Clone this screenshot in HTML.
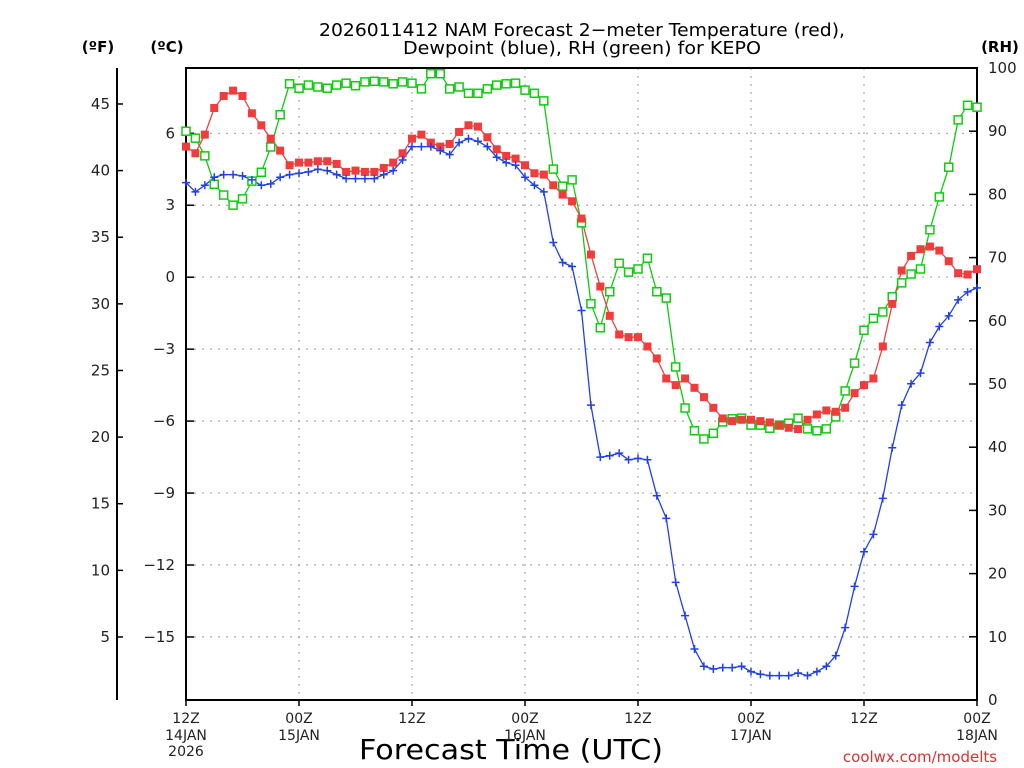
<!DOCTYPE html>
<html><head><meta charset="utf-8"><style>
body{margin:0;background:#fff;width:1024px;height:768px;overflow:hidden}
svg{display:block}
text{font-family:"DejaVu Sans","Liberation Sans",sans-serif;fill:#000}
</style></head><body>
<svg id="chart" width="1024" height="768" viewBox="0 0 1024 768" xmlns="http://www.w3.org/2000/svg">
<text x="582" y="36" font-size="18" text-anchor="middle" textLength="526" lengthAdjust="spacingAndGlyphs">2026011412 NAM Forecast 2−meter Temperature (red),</text>
<text x="582" y="54" font-size="18" text-anchor="middle" textLength="358" lengthAdjust="spacingAndGlyphs">Dewpoint (blue), RH (green) for KEPO</text>
<text x="98" y="52" font-size="15" font-weight="bold" text-anchor="middle">(ºF)</text>
<text x="167" y="52" font-size="15" font-weight="bold" text-anchor="middle">(ºC)</text>
<text x="1000" y="52" font-size="15" font-weight="bold" text-anchor="middle">(RH)</text>
<text x="511" y="759" font-size="28" text-anchor="middle" textLength="304" lengthAdjust="spacingAndGlyphs">Forecast Time (UTC)</text>
<text x="920" y="762" font-size="15" text-anchor="middle" style="fill:#e03030">coolwx.com/modelts</text>
<g id="grid"></g><g id="axes"></g><g id="series"></g>
</svg>
<script>
const hours=[];for(let i=0;i<=84;i++)hours.push(i);
const tempF=[41.8,41.3,42.7,44.7,45.6,46.0,45.6,44.3,43.4,42.4,41.5,40.4,40.6,40.6,40.7,40.7,40.5,39.9,40.0,39.9,39.9,40.2,40.6,41.3,42.4,42.7,42.1,41.8,42.0,42.9,43.4,43.3,42.5,41.6,41.1,40.9,40.4,39.8,39.7,38.9,38.2,37.7,36.4,33.7,31.3,29.1,27.7,27.5,27.5,26.8,25.9,24.4,23.9,24.4,23.7,23.0,22.2,21.4,21.2,21.3,21.3,21.2,21.1,20.9,20.7,20.6,21.3,21.7,22.0,21.9,22.2,23.3,23.9,24.4,26.8,30.0,32.5,33.6,34.1,34.3,34.0,33.2,32.3,32.2,32.6];
const dewF=[39.1,38.4,38.9,39.5,39.7,39.7,39.6,39.3,38.9,39.0,39.5,39.7,39.8,39.9,40.1,40.0,39.7,39.4,39.4,39.4,39.4,39.7,40.0,40.8,41.8,41.8,41.8,41.5,41.2,42.1,42.4,42.2,41.8,41.0,40.6,40.4,39.5,38.9,38.4,34.6,33.1,32.8,29.5,22.4,18.5,18.6,18.8,18.3,18.4,18.3,15.6,13.9,9.1,6.6,4.1,2.8,2.6,2.7,2.7,2.8,2.4,2.2,2.1,2.1,2.1,2.3,2.1,2.4,2.8,3.6,5.7,8.8,11.4,12.7,15.4,19.2,22.4,24.0,24.8,27.1,28.3,29.1,30.3,30.9,31.2];
const rh=[90.0,88.9,86.1,81.6,79.9,78.3,79.3,82.1,83.5,87.5,92.6,97.5,96.8,97.3,97.0,96.8,97.3,97.6,97.2,97.8,97.9,97.8,97.5,97.8,97.6,96.7,99.1,99.1,96.7,97.0,96.0,96.0,96.7,97.3,97.5,97.6,96.5,96.0,94.8,84.0,81.3,82.3,75.5,62.7,58.9,64.6,69.1,67.7,68.2,69.9,64.6,63.6,52.7,46.2,42.6,41.3,42.2,44.0,44.5,44.6,43.5,43.5,43.0,43.5,43.8,44.6,42.9,42.6,42.9,44.8,48.9,53.3,58.5,60.4,61.4,63.8,66.0,67.4,68.2,74.4,79.6,84.3,91.8,94.1,93.8];
const fTicks=[5,10,15,20,25,30,35,40,45];
const cTicks=[-15,-12,-9,-6,-3,0,3,6];
const rhTicks=[0,10,20,30,40,50,60,70,80,90,100];
const xTickLabels=["12Z","00Z","12Z","00Z","12Z","00Z","12Z","00Z"];
const xDateLabels=["14JAN","15JAN","","16JAN","","17JAN","","18JAN"];
const L=186,R=977,T=68,B=700;
const NS="http://www.w3.org/2000/svg";
const xs=h=>L+(R-L)*h/84;
const yF=f=>(703.6-f*13.325);
const yC=c=>yF(c*9/5+32);
const yRH=v=>B-(B-T)*v/100;
function mk(tag,attrs,parent,txt){const e=document.createElementNS(NS,tag);for(const k in attrs)e.setAttribute(k,attrs[k]);if(txt!==undefined)e.textContent=txt;parent.appendChild(e);return e;}
const grid=document.getElementById('grid'),axes=document.getElementById('axes'),ser=document.getElementById('series');
cTicks.forEach(c=>{const g=mk('line',{x1:L,x2:R,y1:yC(c),y2:yC(c),stroke:'#aaa','stroke-dasharray':'2,6','stroke-width':1.2},grid);

});
xTickLabels.forEach((t,i)=>{const x=xs(i*12);if(i>0&&i<7){const g=mk('line',{x1:x,x2:x,y1:T,y2:B,stroke:'#aaa','stroke-dasharray':'2,6','stroke-width':1.2},grid);

}
const a=mk('text',{x:x,y:723,'font-size':14,'text-anchor':'middle',style:'fill:#222'},axes,t);


if(xDateLabels[i]){const d=mk('text',{x:x,y:740,'font-size':14,'text-anchor':'middle',style:'fill:#222'},axes,xDateLabels[i]);

}
const tk=mk('line',{x1:x,x2:x,y1:B,y2:B+6,stroke:'#000','stroke-width':1.5},axes);

});
const yr=mk('text',{x:186,y:756,'font-size':14,'text-anchor':'middle',style:'fill:#222'},axes,'2026');


const fr=mk('rect',{x:L,y:T,width:R-L,height:B-T,fill:'none',stroke:'#000','stroke-width':2},axes);


const fax=mk('line',{x1:117,x2:117,y1:T,y2:B,stroke:'#000','stroke-width':2},axes);


fTicks.forEach(f=>{const y=yF(f);mk('line',{x1:117,x2:123,y1:y,y2:y,stroke:'#000','stroke-width':1.5},axes);
const t=mk('text',{x:110,y:y+5,'font-size':15,'text-anchor':'end',style:'fill:#222'},axes,String(f));

});
cTicks.forEach(c=>{const y=yC(c);mk('line',{x1:L,x2:L+8,y1:y,y2:y,stroke:'#000','stroke-width':1.5},axes);
const t=mk('text',{x:175,y:y+5,'font-size':15,'text-anchor':'end',style:'fill:#222'},axes,c<0?'−'+Math.abs(c):String(c));

});
rhTicks.forEach(v=>{const y=yRH(v);mk('line',{x1:R-8,x2:R,y1:y,y2:y,stroke:'#000','stroke-width':1.5},axes);
const t=mk('text',{x:988,y:y+5,'font-size':15,style:'fill:#222'},axes,String(v));

});
function line(vals,yfn,color,name){const pts=vals.map((v,i)=>xs(hours[i]).toFixed(1)+','+yfn(v).toFixed(1)).join(' ');
const p=mk('polyline',{points:pts,fill:'none',stroke:color,'stroke-width':1.3},ser);

}
line(rh,yRH,'#10cc10','rh-line');
line(tempF,yF,'#f04040','temperature-line');
line(dewF,yF,'#2040f0','dewpoint-line');
rh.forEach((v,i)=>{const m=mk('rect',{x:xs(hours[i])-4,y:yRH(v)-4,width:8,height:8,fill:'#fff',stroke:'#10cc10','stroke-width':1.5},ser);

});
tempF.forEach((v,i)=>{const m=mk('rect',{x:xs(hours[i])-4,y:yF(v)-4,width:8,height:8,fill:'#f03c3c'},ser);

});
dewF.forEach((v,i)=>{const x=xs(hours[i]),y=yF(v);const m=mk('path',{d:`M${x-4},${y}H${x+4}M${x},${y-4}V${y+4}`,stroke:'#2040f0','stroke-width':1.5},ser);

});
</script>
</body></html>
